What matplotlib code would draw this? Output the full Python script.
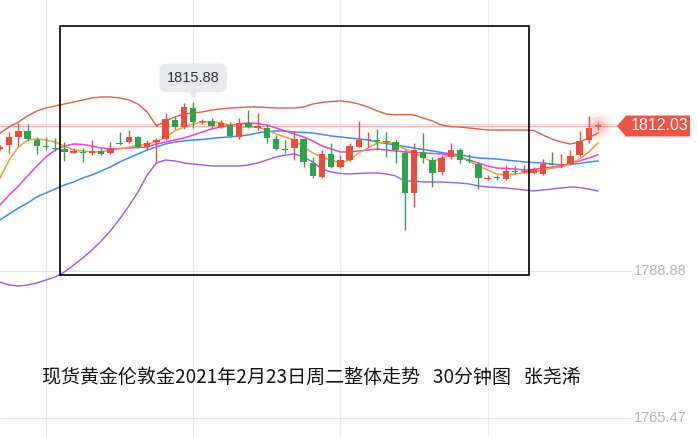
import matplotlib
matplotlib.use("Agg")
import matplotlib.pyplot as plt
from matplotlib.patches import Rectangle, Polygon

plt.rcParams['font.family'] = ['Noto Sans CJK SC', 'DejaVu Sans']

# 30 min candles
opens = [1808.36, 1809.00, 1810.33, 1811.28, 1809.80, 1808.76, 1808.52, 1808.32, 1807.78, 1807.93,
         1807.68, 1808.04, 1807.68, 1809.37, 1809.43, 1810.33, 1808.64, 1809.43, 1809.91, 1812.99,
         1811.92, 1814.86, 1812.70, 1812.83, 1811.92, 1812.19, 1810.33, 1812.56, 1811.76, 1811.67,
         1809.91, 1808.37, 1808.48, 1809.91, 1806.08, 1803.95, 1807.57, 1805.54, 1806.61, 1808.73,
         1809.75, 1809.72, 1809.56, 1809.43, 1807.68, 1801.40, 1807.93, 1806.61, 1804.70, 1807.09,
         1808.28, 1806.50, 1805.89, 1803.61, 1803.90, 1803.53, 1804.79, 1804.70, 1804.58, 1804.38,
         1805.97, 1805.88, 1805.97, 1807.41, 1809.80, 1811.95]
highs = [1809.00, 1811.08, 1812.51, 1812.35, 1810.28, 1810.28, 1810.12, 1809.48, 1808.52, 1808.57,
         1809.80, 1808.52, 1809.53, 1811.12, 1811.39, 1810.44, 1809.80, 1810.07, 1814.06, 1813.63,
         1815.70, 1815.88, 1813.20, 1813.26, 1812.99, 1812.72, 1813.26, 1814.58, 1814.15, 1812.19,
         1810.60, 1809.80, 1811.28, 1810.12, 1807.14, 1808.20, 1809.27, 1807.41, 1809.37, 1812.88,
         1811.12, 1811.51, 1811.12, 1809.91, 1808.20, 1809.27, 1810.87, 1807.14, 1807.41, 1809.37,
         1808.52, 1807.57, 1806.34, 1804.22, 1804.22, 1805.81, 1805.65, 1805.81, 1805.54, 1806.72,
         1807.93, 1807.52, 1808.20, 1811.28, 1813.63, 1812.72]
lows = [1808.20, 1807.73, 1808.84, 1809.64, 1807.52, 1808.20, 1808.05, 1806.50, 1807.73, 1806.34,
        1807.41, 1807.33, 1807.57, 1809.00, 1809.27, 1808.48, 1808.20, 1806.34, 1809.80, 1811.51,
        1811.51, 1811.67, 1812.35, 1811.67, 1811.76, 1810.23, 1809.91, 1811.67, 1811.39, 1809.37,
        1808.20, 1807.68, 1806.53, 1805.45, 1803.69, 1803.69, 1805.29, 1805.29, 1806.50, 1808.64,
        1808.73, 1808.20, 1807.14, 1806.08, 1795.44, 1799.16, 1806.08, 1802.35, 1804.22, 1806.77,
        1806.08, 1806.08, 1801.98, 1803.42, 1803.42, 1803.42, 1804.38, 1804.49, 1804.38, 1804.22,
        1805.81, 1805.29, 1805.81, 1807.25, 1809.27, 1811.39]
closes = [1808.68, 1810.20, 1811.16, 1809.91, 1808.89, 1808.68, 1808.44, 1807.84, 1808.00, 1807.68,
          1808.04, 1807.52, 1808.32, 1809.16, 1810.33, 1808.73, 1809.27, 1809.80, 1813.10, 1811.92,
          1815.02, 1812.62, 1812.75, 1812.03, 1812.56, 1810.44, 1812.46, 1811.92, 1812.03, 1810.07,
          1808.32, 1808.28, 1809.91, 1806.29, 1804.06, 1807.57, 1805.54, 1806.61, 1808.89, 1809.80,
          1809.83, 1809.64, 1809.48, 1808.20, 1801.30, 1808.20, 1806.88, 1804.58, 1806.88, 1808.20,
          1806.53, 1806.42, 1803.69, 1803.74, 1803.80, 1804.90, 1804.70, 1804.79, 1805.13, 1805.97,
          1805.88, 1805.97, 1807.25, 1809.69, 1811.67, 1812.03]

upper_band = [1810.92, 1811.87, 1812.67, 1813.63, 1814.43, 1814.90, 1815.22, 1815.54, 1815.86, 1816.18,
              1816.50, 1816.66, 1816.66, 1816.50, 1816.18, 1815.54, 1814.27, 1812.03, 1812.83, 1813.47,
              1813.95, 1814.11, 1814.27, 1814.58, 1814.74, 1814.90, 1814.98, 1815.06, 1815.06, 1814.98,
              1814.90, 1814.90, 1814.90, 1815.06, 1815.54, 1815.78, 1815.94, 1816.02, 1815.86, 1815.54,
              1815.06, 1814.43, 1813.95, 1813.79, 1813.87, 1813.79, 1813.31, 1812.83, 1812.19, 1811.95,
              1811.87, 1811.71, 1811.55, 1811.39, 1811.39, 1811.39, 1811.39, 1811.39, 1811.32, 1810.60,
              1809.96, 1809.48, 1809.16, 1809.48, 1810.12, 1810.92]
ma_fast = [1803.74, 1806.61, 1808.68, 1809.80, 1809.96, 1809.80, 1809.48, 1808.84, 1808.20, 1808.05,
           1807.89, 1807.89, 1808.20, 1808.36, 1808.68, 1808.92, 1809.16, 1809.48, 1810.28, 1811.24,
           1811.87, 1812.35, 1812.67, 1812.67, 1812.51, 1812.19, 1811.87, 1811.87, 1811.87, 1811.39,
           1810.76, 1810.28, 1809.80, 1808.68, 1807.73, 1807.09, 1806.61, 1806.13, 1806.61, 1807.73,
           1808.52, 1809.32, 1809.48, 1809.16, 1808.36, 1807.73, 1807.09, 1806.29, 1806.93, 1807.41,
           1807.09, 1806.45, 1805.65, 1805.01, 1804.38, 1804.22, 1804.38, 1804.54, 1804.70, 1805.01,
           1805.33, 1805.49, 1805.97, 1806.77, 1807.89, 1809.32]
mid_band = [1799.43, 1801.03, 1802.46, 1804.06, 1805.65, 1807.09, 1808.20, 1808.84, 1809.16, 1809.08,
            1808.84, 1808.52, 1808.36, 1808.44, 1808.52, 1808.60, 1808.68, 1809.16, 1809.48, 1809.80,
            1810.12, 1810.60, 1811.08, 1811.55, 1811.87, 1812.19, 1812.35, 1812.51, 1812.43, 1812.19,
            1811.71, 1811.24, 1810.76, 1810.28, 1809.64, 1808.84, 1808.36, 1807.89, 1807.89, 1808.05,
            1808.20, 1808.36, 1808.20, 1808.05, 1807.89, 1807.81, 1807.73, 1807.65, 1807.57, 1807.41,
            1807.09, 1806.61, 1806.13, 1805.65, 1805.33, 1805.25, 1805.17, 1805.01, 1805.09, 1805.33,
            1805.49, 1805.65, 1806.13, 1806.45, 1806.93, 1807.41]
ma_slow = [1797.04, 1798.00, 1798.95, 1799.75, 1800.71, 1801.35, 1801.98, 1802.62, 1803.10, 1803.74,
           1804.22, 1804.86, 1805.49, 1806.29, 1806.93, 1807.57, 1808.20, 1808.68, 1809.16, 1809.48,
           1809.64, 1809.80, 1809.88, 1810.04, 1810.20, 1810.28, 1810.44, 1810.60, 1810.92, 1811.16,
           1811.24, 1811.24, 1811.08, 1811.00, 1810.92, 1810.68, 1810.44, 1810.28, 1810.12, 1809.96,
           1809.80, 1809.48, 1809.24, 1809.00, 1808.76, 1808.52, 1808.28, 1808.05, 1807.81, 1807.57,
           1807.41, 1807.17, 1806.93, 1806.85, 1806.77, 1806.61, 1806.45, 1806.29, 1806.21, 1806.13,
           1805.97, 1805.81, 1805.89, 1806.05, 1806.29, 1806.45]
lower_band = [1787.15, 1786.67, 1786.51, 1786.67, 1786.99, 1787.47, 1787.95, 1788.75, 1789.86, 1790.98,
              1792.25, 1793.69, 1795.29, 1797.20, 1799.27, 1801.51, 1804.22, 1806.13, 1806.61, 1806.45,
              1806.13, 1805.97, 1805.81, 1805.65, 1805.65, 1805.65, 1805.65, 1805.81, 1806.13, 1806.61,
              1807.09, 1807.41, 1807.57, 1807.09, 1806.29, 1805.17, 1804.70, 1804.46, 1804.38, 1804.46,
              1804.54, 1804.54, 1804.38, 1804.06, 1803.26, 1803.26, 1803.10, 1803.10, 1803.10, 1803.02,
              1802.94, 1802.78, 1802.46, 1802.30, 1802.22, 1802.14, 1801.98, 1801.82, 1801.67, 1801.82,
              1801.98, 1802.14, 1802.30, 1802.22, 1801.98, 1801.67]

last_price = 1812.03
grid_prices = [1812.29, 1788.88, 1765.47]
grid_labels = ['', '1788.88', '1765.47']
caption = '现货黄金伦敦金2021年2月23日周二整体走势   30分钟图   张尧浠'

RED = '#eb4d3d'
GREEN = '#2fa24a'
NUM_FONT = ['Liberation Sans', 'DejaVu Sans']

W, H = 697, 437
PX_X = 9.2     # pixels per candle
PX_Y = 6.27    # pixels per dollar

fig = plt.figure(figsize=(W / 100, H / 100), dpi=100)
ax = fig.add_axes([0, 0, 1, 1])
ax.set_xlim(0, W / PX_X)
y_top = last_price + 126 / PX_Y
ax.set_ylim(y_top - H / PX_Y, y_top)
ax.axis('off')

n = len(closes)
x = list(range(n))

# light grid
for i in range(5, n, 16):
    ax.axvline(i, color='#e9e9e9', lw=0.8, zorder=0)
x_end = 631 / PX_X
for p, lab in zip(grid_prices, grid_labels):
    ax.hlines(p, 0, x_end, color='#e2e2e2', lw=0.8, zorder=0)
    if lab:
        ax.text(x_end + 0.3, p, lab, color='#b4b4b4', fontsize=10.5,
                va='center', ha='left', family=NUM_FONT)

# current price line
ax.hlines(last_price, 0, 617 / PX_X, color='#f4b0aa', lw=1, zorder=1)

# indicator lines
ax.plot(x, upper_band, color='#d4604c', lw=1, zorder=2)
ax.plot(x, lower_band, color='#9b59e3', lw=1, zorder=2)
ax.plot(x, ma_slow, color='#3a8ee6', lw=1.1, zorder=2)
ax.plot(x, mid_band, color='#ea3fe0', lw=1.1, zorder=2)
ax.plot(x, ma_fast, color='#f59b3a', lw=1.1, zorder=2)

# candles
for i in range(n):
    o, h, l, c = opens[i], highs[i], lows[i], closes[i]
    col = RED if c >= o else GREEN
    ax.vlines(i, l, h, color=col, lw=1, zorder=3)
    body = max(abs(c - o), 0.16)
    ax.bar(i, body, width=0.7, bottom=min(o, c), color=col, zorder=4, linewidth=0)

# glow on the last candle
for s, a in [(420, 0.08), (220, 0.14), (90, 0.22)]:
    ax.scatter([n - 1], [last_price], s=s, color='#f07a6e', alpha=a, lw=0, zorder=5)

# price tag on the right
d = 10.5 / PX_Y
tx0, tx1, tip = 626 / PX_X, 690 / PX_X, 617 / PX_X
ax.add_patch(Polygon([(tip, last_price), (tx0, last_price + d), (tx1, last_price + d),
                      (tx1, last_price - d), (tx0, last_price - d)],
                     closed=True, fc='#ec5443', ec='none', zorder=6))
ax.text((tx0 + tx1) / 2 + 0.2, last_price, f'{last_price:.2f}', color='white', fontsize=11.5,
        ha='center', va='center', family=NUM_FONT, zorder=7)

# tooltip on the peak
pk = highs.index(max(highs))
ax.annotate(f'{max(highs):.2f}', xy=(pk, max(highs)), xytext=(0, 24), textcoords='offset pixels',
            ha='center', va='center', fontsize=10.5, color='#333333', family=NUM_FONT,
            bbox=dict(boxstyle='round,pad=0.5', fc='#e8eaed', ec='none'), zorder=8)
ax.plot(pk, max(highs) + 8 / PX_Y, marker='v', ms=7, color='#e8eaed', mec='none', zorder=8)

# black frame drawn over the chart
ax.add_patch(Rectangle((60 / W, 1 - 275 / H), 469 / W, 249 / H, transform=ax.transAxes,
                       fill=False, ec='black', lw=1.2, zorder=9))

fig.text(42 / W, 1 - 377 / H, caption, fontsize=13.7, ha='left', va='center', color='#111111')

fig.savefig('out.png', dpi=100)
